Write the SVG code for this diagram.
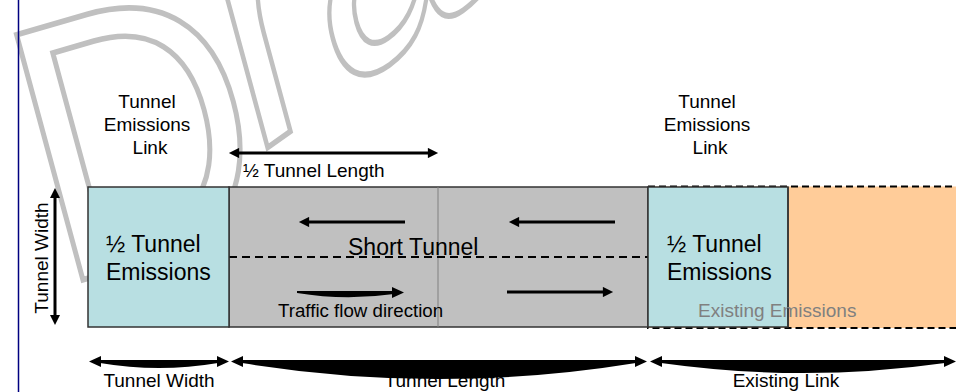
<svg xmlns="http://www.w3.org/2000/svg" width="956" height="392" viewBox="0 0 956 392">
<defs>
<style>
text{font-family:"Liberation Sans",Arial,sans-serif;fill:#000}
.big{font-size:23px}
.sm{font-size:19px}
.wm{fill:none;stroke:#c0c0c0;stroke-width:1.55;font-size:100px;stroke-linejoin:miter}
.box{stroke:#333;stroke-width:1.5}
.arr{stroke:#000;stroke-width:3;fill:none}
.head{fill:#000}
</style>
<marker id="ah" viewBox="0 0 10 10" refX="5" refY="5" markerWidth="4" markerHeight="3.4" orient="auto-start-reverse" markerUnits="strokeWidth">
<path d="M0,0 L10,5 L0,10 z" fill="#000"/>
</marker>
</defs>
<rect width="956" height="392" fill="#fff"/>
<g id="watermark">
<text class="wm" style="fill:none" transform="matrix(3.11,-0.9,0.964,3.56,57.4,287.1)">D</text>
<text class="wm" style="fill:none" x="72.2" transform="matrix(2.595,-1.851,0.964,3.56,62.3,294.1)">raft</text>
</g>
<line x1="18.5" y1="0" x2="18.5" y2="392" stroke="#000080" stroke-width="1.5"/>
<g id="existing-link">
<rect x="648" y="186.5" width="320" height="141.5" fill="#ffcc99" stroke="#000" stroke-width="2" stroke-dasharray="7,4"/>
</g>
<g id="tunnel-body">
<rect class="box" x="229" y="187" width="419" height="140" fill="#c0c0c0"/>
<line x1="438" y1="187" x2="438" y2="327" stroke="#808080" stroke-width="1"/>
<line x1="229" y1="257" x2="648" y2="257" stroke="#000" stroke-width="2" stroke-dasharray="8,5"/>
<text class="big" x="348" y="255">Short Tunnel</text>
</g>
<g id="left-emissions">
<rect class="box" x="88" y="187" width="141" height="140" fill="#b8dfe2"/>
<text class="big" x="106" y="252">½ Tunnel</text>
<text class="big" x="106" y="280">Emissions</text>
</g>
<g id="right-emissions">
<rect class="box" x="648" y="187" width="140" height="140" fill="#b8dfe2"/>
<line x1="788" y1="187" x2="788" y2="327" stroke="#333" stroke-width="1.5"/>
<text class="big" x="667" y="252">½ Tunnel</text>
<text class="big" x="667" y="280">Emissions</text>
</g>
<text class="sm" x="698" y="317" style="fill:#808080">Existing Emissions</text>
<g id="label-left-link">
<text class="sm" x="147" y="108" text-anchor="middle">Tunnel</text>
<text class="sm" x="147" y="131" text-anchor="middle">Emissions</text>
<text class="sm" x="150" y="154" text-anchor="middle">Link</text>
</g>
<g id="label-right-link">
<text class="sm" x="707" y="108" text-anchor="middle">Tunnel</text>
<text class="sm" x="707" y="131" text-anchor="middle">Emissions</text>
<text class="sm" x="710" y="154" text-anchor="middle">Link</text>
</g>
<text class="sm" x="243" y="177">½ Tunnel Length</text>
<text class="sm" transform="translate(48,258) rotate(-90)" text-anchor="middle">Tunnel Width</text>
<text x="278" y="317" style="font-size:18.7px">Traffic flow direction</text>
<text class="sm" x="159" y="387" text-anchor="middle">Tunnel Width</text>
<text class="sm" x="445" y="387" text-anchor="middle">Tunnel Length</text>
<text class="sm" x="786" y="387" text-anchor="middle">Existing Link</text>
<g id="connectors">
<line class="arr" x1="234" y1="153" x2="433" y2="153" marker-start="url(#ah)" marker-end="url(#ah)"/>
<line class="arr" x1="55" y1="193" x2="55" y2="320" marker-start="url(#ah)" marker-end="url(#ah)"/>
<line class="arr" x1="405" y1="222" x2="304" y2="222" marker-end="url(#ah)"/>
<line class="arr" x1="615" y1="222" x2="514" y2="222" marker-end="url(#ah)"/>
<line class="arr" x1="507" y1="292" x2="608" y2="292" marker-end="url(#ah)"/>
<path class="head" d="M297,291 L394,291 L394,294 Q345,301 297,293 Z"/>
<polygon class="head" points="392,287 404,292.5 392,298"/>
<path class="head" d="M100,360 L218,360 L218,363 Q159,373 100,363 Z"/>
<polygon class="head" points="89,361.5 101,356 101,367"/>
<polygon class="head" points="229,361.5 217,356 217,367"/>
<path class="head" d="M242,360 L636,360 L636,363 Q439,395 242,363 Z"/>
<polygon class="head" points="231,361.5 243,356 243,367"/>
<polygon class="head" points="647,361.5 635,356 635,367"/>
<path class="head" d="M661,360 L945,360 L945,363 Q803,383 661,363 Z"/>
<polygon class="head" points="650,361.5 662,356 662,367"/>
<polygon class="head" points="956,361.5 944,356 944,367"/>
</g>
</svg>
